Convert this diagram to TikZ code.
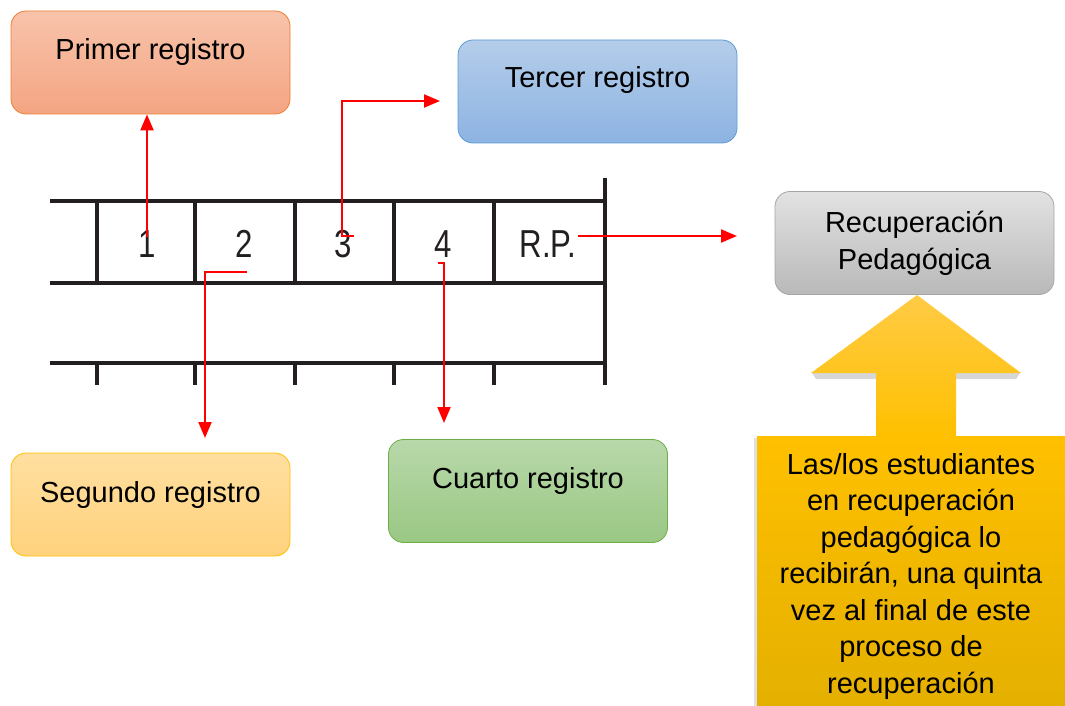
\documentclass[tikz,border=0pt]{standalone}
\usepackage{fontspec}
\usepackage{graphicx}
\setmainfont{Liberation Sans}
\usetikzlibrary{arrows.meta}
\definecolor{tabline}{HTML}{231F20}
\definecolor{redline}{HTML}{FF0000}
\definecolor{ptop}{HTML}{F8C3AB}\definecolor{pbot}{HTML}{F4A582}\definecolor{pbor}{HTML}{ED7D31}
\definecolor{ttop}{HTML}{B4CDEA}\definecolor{tbot}{HTML}{8DB3E2}\definecolor{tbor}{HTML}{5B9BD5}
\definecolor{stop}{HTML}{FFDFA0}\definecolor{sbot}{HTML}{FFD27D}\definecolor{sbor}{HTML}{FFC000}
\definecolor{ctop}{HTML}{B8D8AA}\definecolor{cbot}{HTML}{9AC884}\definecolor{cbor}{HTML}{70AD47}
\definecolor{rtop}{HTML}{E2E2E2}\definecolor{rbot}{HTML}{B9B9B9}\definecolor{rbor}{HTML}{A5A5A5}
\definecolor{atop}{HTML}{FFCB45}\definecolor{amid}{HTML}{FFC000}\definecolor{abot}{HTML}{E4B000}
\tikzset{
  regbox/.style={rounded corners=15pt, minimum width=279pt, minimum height=103pt, inner sep=0pt, line width=0.8pt},
  regtext/.style={font=\fontsize{29}{36}\selectfont, inner sep=0pt},
  cellnum/.style={font=\fontsize{39}{40}\selectfont, inner sep=0pt, text=tabline},
  tab/.style={line width=4pt, draw=tabline},
  redarrow/.style={draw=redline, line width=2pt, -{Triangle[length=16pt,width=13pt]}}
}
\begin{document}
\begin{tikzpicture}[x=1pt,y=-1pt]
\useasboundingbox (0,0) rectangle (1065,706);
% table
\draw[tab] (50,201) -- (605,201);
\draw[tab] (50,283) -- (605,283);
\draw[tab] (50,363) -- (605,363);
\draw[tab] (605,178) -- (605,385);
\foreach \xx in {97,195,295,394,494} {
  \draw[tab] (\xx,201) -- (\xx,283);
  \draw[tab] (\xx,363) -- (\xx,385);
}
\node[cellnum] (n1) at (147,244) {\scalebox{0.8}[1]{1}};
\node[cellnum] (n2) at (244,244) {\scalebox{0.8}[1]{2}};
\node[cellnum] (n3) at (343,244) {\scalebox{0.8}[1]{3}};
\node[cellnum] (n4) at (443,244) {\scalebox{0.8}[1]{4}};
\node[cellnum] (nrp) at (548,244) {\scalebox{0.8}[1]{R.P.}};
% boxes
\node[regbox, draw=pbor, top color=ptop, bottom color=pbot] (p1) at (150.5,62.5) {};
\node[regtext] (p1t) at (150.5,52) {Primer registro};
\node[regbox, draw=tbor, top color=ttop, bottom color=tbot] (p3) at (597.5,91.5) {};
\node[regtext] (p3t) at (597.5,80) {Tercer registro};
\node[regbox, draw=sbor, top color=stop, bottom color=sbot] (p2) at (150.5,504.5) {};
\node[regtext] (p2t) at (150.5,495) {Segundo registro};
\node[regbox, draw=cbor, top color=ctop, bottom color=cbot] (p4) at (528,491) {};
\node[regtext] (p4t) at (528,481) {Cuarto registro};
\node[regbox, draw=rbor, top color=rtop, bottom color=rbot] (rp) at (914.5,243) {};
\node[regtext, align=center, font=\fontsize{29}{37}\selectfont] (rpt) at (914.5,243) {Recuperación\\Pedagógica};
% big arrow with soft shadow
\fill[black!35, opacity=0.45] (812,373) -- (876,373) -- (876,379) -- (816,379) -- cycle;
\fill[black!35, opacity=0.45] (956,373) -- (1020,373) -- (1016,379) -- (956,379) -- cycle;
\fill[black!30, opacity=0.4] (754,438) rectangle (757,706);
\shade[top color=atop, bottom color=amid] (917,295) -- (1021,373) -- (956,373) -- (956,437) -- (876,437) -- (876,373) -- (811,373) -- cycle;
\shade[top color=amid, bottom color=abot] (757,436) rectangle (1065,706);
\node[regtext, align=center, font=\fontsize{29}{36.5}\selectfont] (note) at (911,576) {Las/los estudiantes\\en recuperación\\pedagógica lo\\recibirán, una quinta\\vez al final de este\\proceso de\\recuperación};
% red connectors
\coordinate (a3s) at (354,236);
\coordinate (a3e) at (440,101);
\coordinate (a2s) at (247,272);
\coordinate (a2e) at (205,438);
\coordinate (a4s) at (438,263);
\coordinate (a4e) at (444,423);
\coordinate (arpe) at (737,236);
\draw[redarrow] ([yshift=-7pt]n1.north) -- (n1.north |- p1.south);
\draw[redarrow] (a3s) -- (342,236) -- (342,101) -- (a3e);
\draw[redarrow] (a2s) -- (205,272) -- (a2e);
\draw[redarrow] (a4s) -- (444,263) -- (a4e);
\draw[redarrow] (578,236) -- (arpe);
\end{tikzpicture}
\end{document}
